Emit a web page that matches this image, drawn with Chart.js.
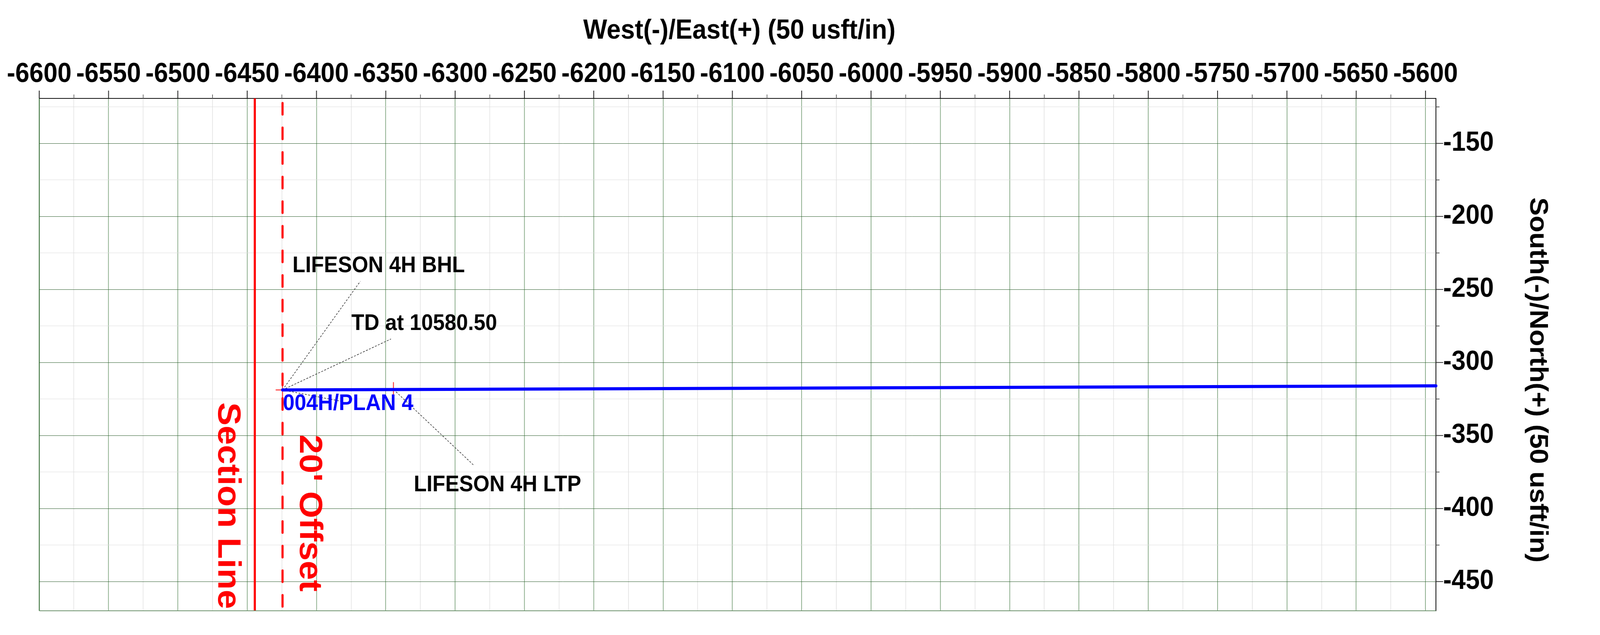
<!DOCTYPE html>
<html>
<head>
<meta charset="utf-8">
<script src="https://cdn.jsdelivr.net/npm/chart.js@4/dist/chart.umd.min.js"></script>
<style>
	html, body { margin: 0; padding: 0; background: #fff; overflow: hidden; }
	/* drawn at 4427x1626 and stretched to the window */
	canvas { display: block; width: 100vw !important; height: 100vh !important; }
</style>
</head>
<body>
<canvas id="plan" width="4427" height="1626"></canvas>
<script>
// plan view, 50 usft per inch
const xRange = [-6600, -5592.5];
const yRange = [-470, -119.2];

// wellbore 004H/PLAN 4 (toe to east edge)
const planX = [-6424.5, -6344.5, -5592.5];
const planY = [-318.8, -318.5, -316.0];

// targets: BHL / TD and LTP
const targetX = [-6424.5, -6344.5];
const targetY = [-318.8, -318.5];

// lease lines
const sectionLineX = -6444.5;
const offsetLineX = -6424.5;

// callouts
const labelText = ['LIFESON 4H BHL', 'TD at 10580.50', '004H/PLAN 4', 'LIFESON 4H LTP'];
const labelX = [-6417.3, -6374.8, -6424.2, -6329.8];
const labelY = [-238.1, -277.7, -332.7, -388.3];
const leaderFromX = [-6424.5, -6424.5, -6424.5, -6344.4];
const leaderFromY = [-318.8, -318.8, -318.8, -318.5];
const leaderToX = [-6368.4, -6346.3, -6382.4, -6286.3];
const leaderToY = [-244.4, -283.9, -326.5, -370.6];

const lineText = ['Section Line', "20' Offset"];
const lineTextX = [-6470.9, -6411.9];
const lineTextY = [-327.3, -349.4];

const FONT = '"Liberation Sans", Arial, sans-serif';

var isMajor = (v) => Math.abs(v % 50) < 1e-6;

var pts = (xs, ys) => xs.map((x, i) => ({ x: x, y: ys[i] }));

var leaderSets = labelText.map((t, i) => ({
	label: 'leader ' + t,
	data: pts([leaderFromX[i], leaderToX[i]], [leaderFromY[i], leaderToY[i]]),
	showLine: true,
	borderColor: '#222',
	borderWidth: 1.5,
	borderDash: [5, 4],
	pointRadius: 0,
	order: 4
}));

var overlay = {
	id: 'overlay',
	afterDatasetsDraw(chart) {
		const ctx = chart.ctx;
		const sx = chart.scales.x, sy = chart.scales.y;
		ctx.save();
		ctx.textAlign = 'left';
		ctx.textBaseline = 'alphabetic';
		labelText.forEach((t, i) => {
			ctx.fillStyle = t.indexOf('PLAN') >= 0 ? '#0000ff' : '#000';
			ctx.font = 'bold 58px ' + FONT;
			ctx.fillText(t, sx.getPixelForValue(labelX[i]), sy.getPixelForValue(labelY[i]));
		});
		lineText.forEach((t, i) => {
			ctx.save();
			ctx.translate(sx.getPixelForValue(lineTextX[i]), sy.getPixelForValue(lineTextY[i]));
			ctx.rotate(Math.PI / 2);
			ctx.fillStyle = '#ff0000';
			ctx.font = 'bold 89px ' + FONT;
			ctx.fillText(t, 0, 0);
			ctx.restore();
		});
		ctx.restore();
	},
	afterDraw(chart) {
		const ctx = chart.ctx;
		const a = chart.chartArea;
		const sx = chart.scales.x, sy = chart.scales.y;
		ctx.save();
		// left and bottom frame
		ctx.strokeStyle = '#2f6a2f';
		ctx.lineWidth = 2;
		ctx.beginPath();
		ctx.moveTo(a.left, a.top);
		ctx.lineTo(a.left, a.bottom);
		ctx.stroke();
		ctx.strokeStyle = '#6f946f';
		ctx.beginPath();
		ctx.moveTo(a.left, a.bottom);
		ctx.lineTo(a.right, a.bottom);
		ctx.stroke();
		// tick marks, long on 50, short on 25
		sx.ticks.forEach(t => {
			const p = sx.getPixelForValue(t.value);
			const major = isMajor(t.value);
			ctx.strokeStyle = major ? '#000' : '#666';
			ctx.beginPath();
			ctx.moveTo(p, a.top);
			ctx.lineTo(p, a.top - (major ? 20 : 10));
			ctx.stroke();
		});
		sy.ticks.forEach(t => {
			const p = sy.getPixelForValue(t.value);
			const major = isMajor(t.value);
			ctx.strokeStyle = major ? '#333' : '#555';
			ctx.beginPath();
			ctx.moveTo(a.right, p);
			ctx.lineTo(a.right + (major ? 20 : 10), p);
			ctx.stroke();
		});
		// axis titles
		ctx.fillStyle = '#000';
		ctx.font = 'bold 70px ' + FONT;
		ctx.textAlign = 'center';
		ctx.textBaseline = 'alphabetic';
		ctx.fillText('West(-)/East(+) (50 usft/in)', (a.left + a.right) / 2 + 5, 99);
		ctx.translate(4234, 973);
		ctx.rotate(Math.PI / 2);
		ctx.fillText('South(-)/North(+) (50 usft/in)', 0, 0);
		ctx.restore();
	}
};

const config = {
	type: 'scatter',
	data: {
		datasets: [
			{
				label: '004H/PLAN 4',
				data: pts(planX, planY),
				showLine: true,
				borderColor: '#0000ff',
				borderWidth: 8,
				borderCapStyle: 'round',
				pointRadius: 0,
				clip: 5,
				order: 1
			},
			{
				label: 'targets',
				data: pts(targetX, targetY),
				pointStyle: 'cross',
				pointRadius: 19,
				pointBorderWidth: 2,
				borderColor: '#ff0000',
				order: 2
			},
			{
				label: 'Section Line',
				data: pts([sectionLineX, sectionLineX], [yRange[1], yRange[0]]),
				showLine: true,
				borderColor: '#ff0000',
				borderWidth: 6,
				pointRadius: 0,
				order: 3
			},
			{
				label: "20' Offset",
				data: pts([offsetLineX, offsetLineX], [yRange[1], yRange[0]]),
				showLine: true,
				borderColor: '#ff0000',
				borderWidth: 6,
				borderDash: [29, 34],
				borderDashOffset: -12,
				borderCapStyle: 'round',
				pointRadius: 0,
				order: 3
			}
		].concat(leaderSets)
	},
	options: {
		responsive: false,
		animation: false,
		devicePixelRatio: 1,
		events: [],
		layout: { padding: { left: 103, right: 0, top: 0, bottom: 27 } },
		plugins: { legend: { display: false }, tooltip: { enabled: false } },
		scales: {
			x: {
				type: 'linear',
				position: 'top',
				min: xRange[0],
				max: xRange[1],
				afterFit: (s) => { s.height = 252; },
				ticks: {
					stepSize: 25,
					autoSkip: false,
					includeBounds: false,
					minRotation: 0,
					maxRotation: 0,
					padding: 19,
					color: '#000',
					font: { family: FONT, size: 70, weight: 'bold' },
					callback: (v) => isMajor(v) ? String(v) : ''
				},
				grid: {
					drawTicks: false,
					color: (c) => isMajor(c.tick.value) ? '#84a884' : '#e6e6e6',
					lineWidth: 2
				},
				border: { display: true, color: '#111', width: 2 }
			},
			y: {
				type: 'linear',
				position: 'right',
				min: yRange[0],
				max: yRange[1],
				afterFit: (s) => { s.width = 454; },
				ticks: {
					stepSize: 25,
					autoSkip: false,
					includeBounds: false,
					padding: 20,
					color: '#000',
					font: { family: FONT, size: 70, weight: 'bold' },
					callback: (v) => isMajor(v) ? String(v) : ''
				},
				grid: {
					drawTicks: false,
					color: (c) => isMajor(c.tick.value) ? '#2f5f2f' : '#dddddd',
					lineWidth: 1
				},
				border: { display: true, color: '#000', width: 2 }
			}
		}
	},
	plugins: [overlay]
};

const planChart = new Chart(document.getElementById('plan'), config);
</script>
</body>
</html>
